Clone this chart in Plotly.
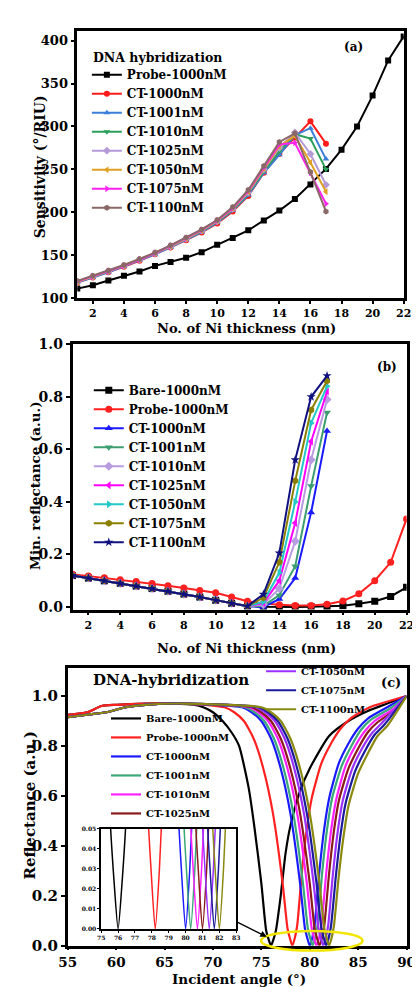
import plotly.graph_objects as go

# ---------------- panel (a): sensitivity vs Ni thickness ----------------
thick_a_probe = list(range(1, 23))
thick_a_ct = list(range(1, 18))
sens_probe = [111, 115, 120.5, 126, 131, 137.5, 142, 147, 153.5, 162, 170, 179, 190.5, 202,
              215.5, 232.5, 250.5, 273, 300, 336, 377, 405]
sens_ct1000 = [118, 124, 130, 136.5, 143.5, 151, 159, 167.5, 176.5, 187, 201, 219, 246, 268, 287, 306, 280]
sens_ct1001 = [118, 124, 130, 137, 144, 151, 159, 168, 177, 188, 202, 220, 246, 267, 290, 298, 262]
sens_ct1010 = [119, 125, 131, 137.5, 144.5, 152, 160, 169, 178, 189, 203, 222, 248, 271, 291, 286, 250]
sens_ct1025 = [119, 125, 131, 137.5, 144.5, 152, 160, 169, 178.5, 189.5, 204, 223, 250, 275, 293, 268, 232]
sens_ct1050 = [119, 125, 131.5, 138, 145, 152.5, 160.5, 169.5, 179, 190, 204.5, 224, 251, 277, 289, 258, 224]
sens_ct1075 = [119.5, 125.5, 131.5, 138, 145, 152.5, 161, 170, 179.5, 190.5, 205, 225, 252, 279, 281, 246, 210]
sens_ct1100 = [120, 126, 132, 138.5, 145.5, 153, 161.5, 170.5, 180, 191, 206, 226, 254, 282, 292, 247, 201]

# ---------------- panel (b): minimum reflectance vs Ni thickness ----------------
thick_b_full = list(range(1, 23))
thick_b_ct = list(range(1, 18))
minr_bare = [0.12, 0.11, 0.10, 0.09, 0.08, 0.07, 0.06, 0.049, 0.038, 0.026, 0.014, 0.004, 0.001,
             0.0, 0.0, 0.001, 0.002, 0.005, 0.012, 0.022, 0.04, 0.075]
minr_probe = [0.125, 0.118, 0.111, 0.104, 0.097, 0.089, 0.081, 0.072, 0.063, 0.054, 0.038, 0.022,
              0.013, 0.008, 0.006, 0.006, 0.01, 0.023, 0.05, 0.10, 0.17, 0.335]
minr_ct1000 = [0.12, 0.11, 0.10, 0.09, 0.08, 0.07, 0.06, 0.049, 0.038, 0.026, 0.014, 0.003, 0.0, 0.03, 0.11, 0.36, 0.67]
minr_ct1001 = [0.12, 0.11, 0.10, 0.09, 0.08, 0.07, 0.06, 0.049, 0.038, 0.026, 0.014, 0.003, 0.004, 0.045, 0.155, 0.46, 0.74]
minr_ct1010 = [0.12, 0.11, 0.10, 0.09, 0.08, 0.07, 0.06, 0.049, 0.038, 0.026, 0.014, 0.003, 0.01, 0.07, 0.25, 0.56, 0.79]
minr_ct1025 = [0.12, 0.11, 0.10, 0.09, 0.08, 0.07, 0.06, 0.049, 0.038, 0.026, 0.014, 0.003, 0.015, 0.10, 0.32, 0.63, 0.82]
minr_ct1050 = [0.12, 0.11, 0.10, 0.09, 0.08, 0.07, 0.06, 0.049, 0.038, 0.026, 0.014, 0.003, 0.02, 0.13, 0.40, 0.70, 0.84]
minr_ct1075 = [0.12, 0.11, 0.10, 0.09, 0.08, 0.07, 0.06, 0.049, 0.038, 0.026, 0.014, 0.003, 0.035, 0.17, 0.48, 0.75, 0.86]
minr_ct1100 = [0.12, 0.11, 0.10, 0.09, 0.08, 0.07, 0.06, 0.049, 0.038, 0.026, 0.014, 0.003, 0.048, 0.205, 0.56, 0.80, 0.88]

# ---------------- panel (c): reflectance vs incident angle ----------------
ang_bare = [55, 57, 58.5, 60, 63, 66, 68, 69, 70, 71, 72, 72.7, 73.7, 74.3, 75, 75.5, 75.75, 76, 76.25, 76.5,
            77, 77.5, 78, 79, 80, 82, 84, 86, 88, 90]
ref_bare = [0.925, 0.935, 0.96, 0.965, 0.97, 0.97, 0.965, 0.955, 0.935, 0.90, 0.85, 0.80, 0.63, 0.47, 0.25,
            0.06, 0.025, 0.0, 0.025, 0.06, 0.2, 0.37, 0.48, 0.62, 0.71, 0.84, 0.90, 0.94, 0.97, 1.0]
ang_probe = [55, 57, 58.5, 60, 63, 67, 71.2, 72.2, 73.2, 74.2, 75.2, 76.2, 77.2, 77.7, 77.95, 78.2, 78.45,
             78.7, 79.2, 79.7, 80.2, 81.2, 82.2, 83.2, 84.2, 86.2, 90]
ref_probe = [0.925, 0.935, 0.96, 0.965, 0.97, 0.97, 0.955, 0.935, 0.90, 0.83, 0.71, 0.53, 0.25, 0.07, 0.03,
             0.0, 0.03, 0.08, 0.30, 0.47, 0.59, 0.73, 0.81, 0.87, 0.91, 0.955, 1.0]
ang_ct1000 = [55, 57, 59, 61, 63, 67, 73, 74, 75, 76, 77, 78, 79, 79.5, 79.75, 80, 80.25, 80.5, 81, 81.5,
              82, 83, 84, 85, 86, 88, 90]
ref_ct1000 = [0.915, 0.925, 0.935, 0.955, 0.965, 0.97, 0.955, 0.935, 0.90, 0.83, 0.71, 0.53, 0.25, 0.07,
              0.03, 0.0, 0.03, 0.08, 0.30, 0.47, 0.59, 0.73, 0.81, 0.87, 0.91, 0.955, 1.0]
ang_ct1001 = [55, 57, 59, 61, 63, 67, 73.3, 74.3, 75.3, 76.3, 77.3, 78.3, 79.3, 79.8, 80.05, 80.3, 80.55,
              80.8, 81.3, 81.8, 82.3, 83.3, 84.3, 85.3, 86.3, 88.3, 90]
ref_ct1001 = [0.915, 0.925, 0.935, 0.955, 0.965, 0.97, 0.955, 0.935, 0.90, 0.83, 0.71, 0.53, 0.25, 0.07,
              0.03, 0.0, 0.03, 0.08, 0.30, 0.47, 0.59, 0.72, 0.80, 0.865, 0.905, 0.95, 1.0]
ang_ct1010 = [55, 57, 59, 61, 63, 67, 73.7, 74.7, 75.7, 76.7, 77.7, 78.7, 79.7, 80.2, 80.45, 80.7, 80.95,
              81.2, 81.7, 82.2, 82.7, 83.7, 84.7, 85.7, 86.7, 88.7, 90]
ref_ct1010 = [0.915, 0.925, 0.935, 0.955, 0.965, 0.97, 0.955, 0.935, 0.90, 0.83, 0.71, 0.53, 0.25, 0.07,
              0.03, 0.0, 0.03, 0.08, 0.29, 0.46, 0.58, 0.72, 0.80, 0.86, 0.90, 0.95, 1.0]
ang_ct1025 = [55, 57, 59, 61, 63, 67, 74, 75, 76, 77, 78, 79, 80, 80.5, 80.75, 81, 81.25, 81.5, 82, 82.5,
              83, 84, 85, 86, 87, 89, 90]
ref_ct1025 = [0.915, 0.925, 0.935, 0.955, 0.965, 0.97, 0.955, 0.935, 0.90, 0.83, 0.71, 0.53, 0.25, 0.07,
              0.03, 0.0, 0.03, 0.08, 0.29, 0.46, 0.58, 0.71, 0.79, 0.855, 0.895, 0.95, 1.0]
ang_ct1050 = [55, 57, 59, 61, 63, 67, 74.4, 75.4, 76.4, 77.4, 78.4, 79.4, 80.4, 80.9, 81.15, 81.4, 81.65,
              81.9, 82.4, 82.9, 83.4, 84.4, 85.4, 86.4, 87.4, 90]
ref_ct1050 = [0.915, 0.925, 0.935, 0.955, 0.965, 0.97, 0.955, 0.935, 0.90, 0.83, 0.71, 0.53, 0.25, 0.07,
              0.03, 0.0, 0.03, 0.08, 0.29, 0.46, 0.58, 0.71, 0.79, 0.85, 0.89, 1.0]
ang_ct1075 = [55, 57, 59, 61, 63, 67, 74.7, 75.7, 76.7, 77.7, 78.7, 79.7, 80.7, 81.2, 81.45, 81.7, 81.95,
              82.2, 82.7, 83.2, 83.7, 84.7, 85.7, 86.7, 87.7, 90]
ref_ct1075 = [0.915, 0.925, 0.935, 0.955, 0.965, 0.97, 0.955, 0.935, 0.90, 0.83, 0.71, 0.53, 0.25, 0.07,
              0.03, 0.0, 0.03, 0.08, 0.28, 0.45, 0.57, 0.70, 0.78, 0.845, 0.885, 1.0]
ang_ct1100 = [55, 57, 59, 61, 63, 67, 75, 76, 77, 78, 79, 80, 81, 81.5, 81.75, 82, 82.25, 82.5, 83, 83.5,
              84, 85, 86, 87, 88, 90]
ref_ct1100 = [0.915, 0.925, 0.935, 0.955, 0.965, 0.97, 0.955, 0.935, 0.90, 0.83, 0.71, 0.53, 0.25, 0.07,
              0.03, 0.0, 0.03, 0.08, 0.28, 0.44, 0.56, 0.69, 0.77, 0.84, 0.88, 1.0]

# ---------------- styling ----------------
FONT = "DejaVu Serif"
W, H = 420, 987


def bold(size, color="black"):
    return dict(family=FONT, size=size, color=color, weight="bold")


def px(xp):
    return xp / W


def py(yp):
    return 1 - yp / H


fig = go.Figure()

# panel (a)
series_a = [
    ("Probe-1000nM", thick_a_probe, sens_probe, "black", "square"),
    ("CT-1000nM", thick_a_ct, sens_ct1000, "#ff1a1a", "circle"),
    ("CT-1001nM", thick_a_ct, sens_ct1001, "#3a7fd9", "triangle-up"),
    ("CT-1010nM", thick_a_ct, sens_ct1010, "#2ca05a", "triangle-down"),
    ("CT-1025nM", thick_a_ct, sens_ct1025, "#b59ad8", "diamond"),
    ("CT-1050nM", thick_a_ct, sens_ct1050, "#e0a020", "triangle-left"),
    ("CT-1075nM", thick_a_ct, sens_ct1075, "#ff22ee", "triangle-right"),
    ("CT-1100nM", thick_a_ct, sens_ct1100, "#8a6868", "hexagon"),
]
for name, xs, ys, col, sym in series_a:
    fig.add_trace(go.Scatter(x=xs, y=ys, name=name, mode="lines+markers",
                             line=dict(color=col, width=2), marker=dict(symbol=sym, size=6, color=col),
                             xaxis="x", yaxis="y", legend="legend"))

# panel (b)
series_b = [
    ("Bare-1000nM", thick_b_full, minr_bare, "black", "square"),
    ("Probe-1000nM", thick_b_full, minr_probe, "#ff2020", "circle"),
    ("CT-1000nM", thick_b_ct, minr_ct1000, "#1a1aff", "triangle-up"),
    ("CT-1001nM", thick_b_ct, minr_ct1001, "#3c9e70", "triangle-down"),
    ("CT-1010nM", thick_b_ct, minr_ct1010, "#b89be0", "diamond"),
    ("CT-1025nM", thick_b_ct, minr_ct1025, "#ff00ff", "triangle-left"),
    ("CT-1050nM", thick_b_ct, minr_ct1050, "#22c8c8", "triangle-right"),
    ("CT-1075nM", thick_b_ct, minr_ct1075, "#8c8000", "hexagon"),
    ("CT-1100nM", thick_b_ct, minr_ct1100, "#101080", "star"),
]
for name, xs, ys, col, sym in series_b:
    fig.add_trace(go.Scatter(x=xs, y=ys, name=name, mode="lines+markers",
                             line=dict(color=col, width=2), marker=dict(symbol=sym, size=7, color=col),
                             xaxis="x2", yaxis="y2", legend="legend2"))

# panel (c)
series_c = [
    ("Bare-1000nM", ang_bare, ref_bare, "black", "legend3"),
    ("Probe-1000nM", ang_probe, ref_probe, "#ff2020", "legend3"),
    ("CT-1000nM", ang_ct1000, ref_ct1000, "#1a1aff", "legend3"),
    ("CT-1001nM", ang_ct1001, ref_ct1001, "#3aa878", "legend3"),
    ("CT-1010nM", ang_ct1010, ref_ct1010, "#ff20ff", "legend3"),
    ("CT-1025nM", ang_ct1025, ref_ct1025, "#8b1a1a", "legend3"),
    ("CT-1050nM", ang_ct1050, ref_ct1050, "#9b30ff", "legend4"),
    ("CT-1075nM", ang_ct1075, ref_ct1075, "#1a1a9a", "legend4"),
    ("CT-1100nM", ang_ct1100, ref_ct1100, "#8a8a10", "legend4"),
]
for name, xs, ys, col, leg in series_c:
    fig.add_trace(go.Scatter(x=xs, y=ys, name=name, mode="lines",
                             line=dict(color=col, width=2.2, shape="spline", smoothing=0.6),
                             xaxis="x3", yaxis="y3", legend=leg))
for name, xs, ys, col, leg in series_c:
    fig.add_trace(go.Scatter(x=xs, y=ys, name=name, mode="lines", showlegend=False,
                             line=dict(color=col, width=1.5, shape="spline", smoothing=0.6),
                             xaxis="x4", yaxis="y4"))


def axis_style(domain, rng, anchor, tick_size, lw=2.5, **kw):
    d = dict(domain=domain, range=rng, anchor=anchor, showline=True, linecolor="black",
             linewidth=lw, mirror=True, ticks="outside", ticklen=4, tickwidth=1.8,
             tickcolor="black", showgrid=False, zeroline=False, tickfont=bold(tick_size))
    d.update(kw)
    return d


legend_common = dict(bgcolor="rgba(0,0,0,0)", borderwidth=0, xanchor="left", yanchor="top",
                     tracegroupgap=0, itemclick=False)

fig.update_layout(
    width=W, height=H, margin=dict(l=0, r=0, t=0, b=0),
    paper_bgcolor="white", plot_bgcolor="white",
    xaxis=axis_style([px(63), px(404)], [1, 22], "y", 11, tick0=2, dtick=2, ticklen=3),
    yaxis=axis_style([py(287), py(15)], [100, 411.6], "x", 13, tick0=100, dtick=50),
    xaxis2=axis_style([px(58), px(407)], [1, 22], "y2", 11, tick0=2, dtick=2, ticklen=3),
    yaxis2=axis_style([py(604), py(334)], [-0.01, 1.0], "x2", 14, tick0=0, dtick=0.2, tickformat=".1f"),
    xaxis3=axis_style([px(53), px(407)], [55, 90], "y3", 13.5, tick0=55, dtick=5, ticklen=2),
    yaxis3=axis_style([py(946), py(663)], [0, 1.114], "x3", 15, tick0=0, dtick=0.2, tickformat=".1f"),
    xaxis4=axis_style([px(88), px(229)], [75, 83], "y4", 6, lw=1.5, tick0=75, dtick=1, ticklen=2, tickwidth=1),
    yaxis4=axis_style([py(929), py(827)], [0, 0.05], "x4", 6, lw=1.5, tick0=0, dtick=0.01,
                      tickformat=".2f", ticklen=2, tickwidth=1),
    legend=dict(legend_common, x=px(73), y=py(45), font=bold(12)),
    legend2=dict(legend_common, x=px(75), y=py(366), font=bold(12)),
    legend3=dict(legend_common, x=px(93), y=py(700), font=bold(10)),
    legend4=dict(legend_common, x=px(255), y=py(652), font=bold(10)),
)

annotations = [
    dict(text="DNA hybridization", x=px(147), y=py(42), font=bold(12.5)),
    dict(text="(a)", x=px(352), y=py(32), font=bold(12)),
    dict(text="(b)", x=px(387), y=py(357), font=bold(12)),
    dict(text="(c)", x=px(391), y=py(678), font=bold(13)),
    dict(text="DNA-hybridization", x=px(161), y=py(676), font=bold(15)),
    dict(text="Sensitivity (°/RIU)", x=px(24), y=py(153), textangle=-90, font=bold(14)),
    dict(text="No. of Ni thickness (nm)", x=px(240), y=py(318), font=bold(13)),
    dict(text="Min. reflectance (a.u.)", x=px(19), y=py(478), textangle=-90, font=bold(13.5)),
    dict(text="No. of Ni thickness (nm)", x=px(240), y=py(644), font=bold(13)),
    dict(text="Reflectance (a.u.)", x=px(14), y=py(803), textangle=-90, font=bold(15)),
    dict(text="Incident angle (°)", x=px(232), y=py(980), font=bold(13.5)),
]
for a in annotations:
    a.update(xref="paper", yref="paper", showarrow=False, xanchor="center", yanchor="middle")

annotations.append(dict(x=px(261), y=py(937), xref="paper", yref="paper", ax=-32, ay=-16,
                        showarrow=True, arrowhead=2, arrowsize=1, arrowwidth=1.3,
                        arrowcolor="black", text=""))
fig.update_layout(annotations=annotations)

fig.update_layout(shapes=[
    dict(type="circle", xref="paper", yref="paper", x0=px(255), x1=px(361), y0=py(951), y1=py(931),
         line=dict(color="#f2e600", width=2.5), layer="above"),
])

fig.write_html("out.html")
